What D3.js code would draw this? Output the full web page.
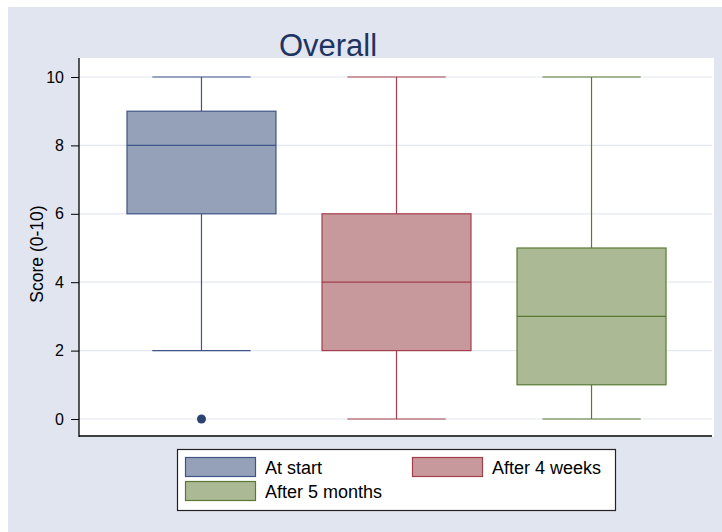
<!DOCTYPE html>
<html>
<head>
<meta charset="utf-8">
<script src="https://cdn.jsdelivr.net/npm/d3@7/dist/d3.min.js"></script>
<style>
  html, body { margin: 0; padding: 0; background: #ffffff; }
  svg { display: block; font-family: "Liberation Sans", Arial, sans-serif; }
</style>
</head>
<body>
<svg id="chart" width="722" height="532"></svg>
<script>
// Score summaries per time point (five-number summary plus outliers)
const groups = ["At start", "After 4 weeks", "After 5 months"];
const lowerWhisker = [2, 0, 0];
const q1 = [6, 2, 1];
const median = [8, 4, 3];
const q3 = [9, 6, 5];
const upperWhisker = [10, 10, 10];
const outliers = [[0], [], []];
const yTicks = [0, 2, 4, 6, 8, 10];

const fills = ["#95a1b9", "#c8999c", "#abb994"];
const strokes = ["#3f5585", "#a3404b", "#5a7a33"];

const svg = d3.select("#chart");

// outer panel
svg.append("rect").attr("x", 8).attr("y", 7).attr("width", 714).attr("height", 525).attr("fill", "#e1e5f0");

const plot = { left: 79, right: 714, top: 58, bottom: 437 };
svg.append("rect").attr("x", plot.left).attr("y", plot.top)
  .attr("width", plot.right - plot.left).attr("height", plot.bottom - plot.top).attr("fill", "#ffffff");

const y = d3.scaleLinear().domain([0, 10]).range([419, 77]);
const x = d3.scaleBand().domain(groups).range([plot.left, plot.right]).paddingInner(0.236).paddingOuter(0.246);

// gridlines
svg.append("g").selectAll("line").data(yTicks).join("line")
  .attr("x1", plot.left).attr("x2", plot.right - 2)
  .attr("y1", d => y(d)).attr("y2", d => y(d))
  .attr("stroke", "#e4e8f1").attr("stroke-width", 1.2);

// y axis
const yAxis = d3.axisLeft(y).tickValues(yTicks).tickSize(8).tickPadding(7).tickFormat(d3.format("d"));
const ga = svg.append("g").attr("transform", `translate(${plot.left},0)`).call(yAxis);
ga.select(".domain").attr("d", `M0,${plot.top}V${plot.bottom}`).attr("stroke", "#000").attr("stroke-width", 1.3);
ga.selectAll(".tick line").attr("stroke", "#000");
ga.selectAll(".tick text").attr("font-size", 16).attr("fill", "#000")
  .attr("font-family", "'Liberation Sans', Arial, sans-serif");

// x axis baseline
svg.append("line").attr("x1", plot.left).attr("x2", plot.right - 2)
  .attr("y1", 436).attr("y2", 436).attr("stroke", "#000").attr("stroke-width", 1.6);

// boxes
const bw = x.bandwidth();
groups.forEach((g, i) => {
  const cx = x(g) + bw / 2;
  const capHalf = bw * 0.33;
  const gg = svg.append("g");
  gg.append("line").attr("x1", cx).attr("x2", cx).attr("y1", y(upperWhisker[i])).attr("y2", y(q3[i]))
    .attr("stroke", strokes[i]).attr("stroke-width", 1.2);
  gg.append("line").attr("x1", cx).attr("x2", cx).attr("y1", y(q1[i])).attr("y2", y(lowerWhisker[i]))
    .attr("stroke", strokes[i]).attr("stroke-width", 1.2);
  [upperWhisker[i], lowerWhisker[i]].forEach(v => {
    gg.append("line").attr("x1", cx - capHalf).attr("x2", cx + capHalf).attr("y1", y(v)).attr("y2", y(v))
      .attr("stroke", strokes[i]).attr("stroke-width", 1.2);
  });
  gg.append("rect").attr("x", x(g)).attr("y", y(q3[i])).attr("width", bw).attr("height", y(q1[i]) - y(q3[i]))
    .attr("fill", fills[i]).attr("stroke", strokes[i]).attr("stroke-width", 1.2);
  gg.append("line").attr("x1", x(g)).attr("x2", x(g) + bw).attr("y1", y(median[i])).attr("y2", y(median[i]))
    .attr("stroke", strokes[i]).attr("stroke-width", 1.2);
  gg.selectAll("circle").data(outliers[i]).join("circle")
    .attr("cx", cx).attr("cy", d => y(d)).attr("r", 4.5).attr("fill", "#2c4372");
});

// title
svg.append("text").attr("x", 328).attr("y", 56).attr("text-anchor", "middle")
  .attr("font-size", 31).attr("fill", "#1f3461").text("Overall");

// y axis title
svg.append("text").attr("transform", "translate(43,254) rotate(-90)").attr("text-anchor", "middle")
  .attr("font-size", 17.5).attr("fill", "#000").text("Score (0-10)");

// legend
const lg = svg.append("g");
lg.append("rect").attr("x", 177.5).attr("y", 449.5).attr("width", 438).attr("height", 61)
  .attr("fill", "#ffffff").attr("stroke", "#222").attr("stroke-width", 1.2);
const legPos = [[185, 457], [412, 457], [185, 481]];
groups.forEach((g, i) => {
  const [lx, ly] = legPos[i];
  lg.append("rect").attr("x", lx + 0.5).attr("y", ly + 0.5).attr("width", 70).attr("height", 19)
    .attr("fill", fills[i]).attr("stroke", strokes[i]).attr("stroke-width", 1.2);
  lg.append("text").attr("x", lx + 80).attr("y", ly + 17).attr("font-size", 18).attr("fill", "#000").text(g);
});
</script>
</body>
</html>
